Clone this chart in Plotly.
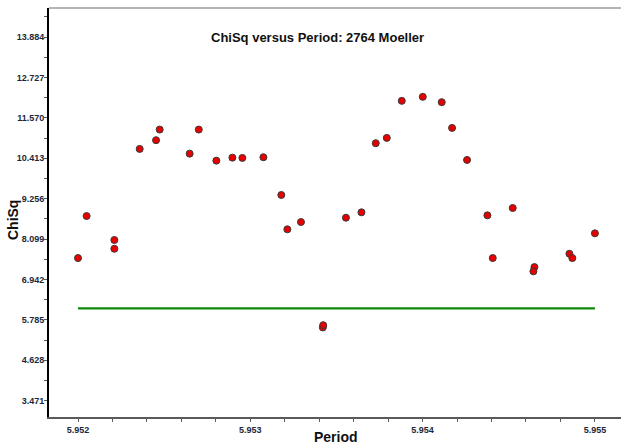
import plotly.graph_objects as go

# Trial periods and the chi-square value found at each
period = [
    5.952000, 5.952050, 5.952211, 5.952211, 5.952358, 5.952453, 5.952474,
    5.952648, 5.952701, 5.952803, 5.952896, 5.952954, 5.953076, 5.953180,
    5.953215, 5.953294, 5.953421, 5.953423, 5.953555, 5.953645, 5.953728,
    5.953792, 5.953879, 5.954001, 5.954111, 5.954171, 5.954258, 5.954376,
    5.954407, 5.954523, 5.954649, 5.954643, 5.954852, 5.954869, 5.955000,
]
chisq = [
    7.554, 8.759, 8.071, 7.821, 10.682, 10.932, 11.236,
    10.547, 11.236, 10.346, 10.432, 10.424, 10.444, 9.362,
    8.378, 8.587, 5.566, 5.632, 8.711, 8.865, 10.846,
    10.998, 12.059, 12.174, 12.022, 11.284, 10.366, 8.779,
    7.554, 8.989, 7.296, 7.173, 7.678, 7.554, 8.263,
]

# Reference level drawn across the searched period interval
ref_period = [5.952, 5.955]
ref_level = [6.111, 6.111]

x_range = [5.9518317, 5.9551514]
y_range = [3.0, 14.72]
y_tick0 = 3.471
y_step = 1.157

NARROW = "Liberation Sans Narrow, Arial Narrow, sans-serif"
SANS = "Liberation Sans, Arial, sans-serif"
label_font = dict(family=NARROW, size=9, color="#1c2838", weight="bold")

fig = go.Figure()
fig.add_trace(go.Scatter(
    x=ref_period, y=ref_level, mode="lines",
    line=dict(color="#0a8a0a", width=2.2),
    hoverinfo="skip", showlegend=False,
))
fig.add_trace(go.Scatter(
    x=period, y=chisq, mode="markers",
    marker=dict(size=7, color="#e80000", line=dict(color="#3a3a3a", width=1)),
    showlegend=False,
))

fig.update_layout(
    width=621, height=445,
    margin=dict(l=49, r=0, t=8, b=28),
    paper_bgcolor="white", plot_bgcolor="white",
    showlegend=False,
    xaxis=dict(
        range=x_range, showgrid=False, zeroline=False,
        showline=True, linecolor="#5a5a5a", linewidth=2,
        tickmode="linear", tick0=5.952, dtick=0.001, tickformat=".3f",
        ticks="outside", ticklen=3, tickcolor="#5a5a5a", tickwidth=1,
        tickfont=label_font,
        minor=dict(tickmode="linear", tick0=5.952, dtick=0.0002,
                   ticks="outside", ticklen=3, tickcolor="#5a5a5a", showgrid=False),
    ),
    yaxis=dict(
        range=y_range, showgrid=False, zeroline=False,
        showline=True, linecolor="#000000", linewidth=2,
        tickmode="linear", tick0=y_tick0, dtick=y_step, tickformat=".3f",
        ticks="outside", ticklen=3, tickcolor="#5a5a5a", tickwidth=1,
        tickfont=label_font, ticklabelstandoff=-2,
        minor=dict(tickmode="linear", tick0=y_tick0, dtick=y_step / 2,
                   ticks="outside", ticklen=3, tickcolor="#5a5a5a", showgrid=False),
    ),
    shapes=[dict(type="line", xref="paper", yref="paper", x0=0, x1=1, y0=1, y1=1,
                 line=dict(color="#9a9a9a", width=1.5))],
    annotations=[
        dict(text="<b>ChiSq versus Period: 2764 Moeller</b>", xref="paper", yref="paper",
             x=0.47, y=1, yshift=-29, xanchor="center", yanchor="middle", showarrow=False,
             font=dict(family=SANS, size=13, color="#111111")),
        dict(text="<b>Period</b>", xref="paper", yref="paper",
             x=0.502, y=0, yshift=-20, xanchor="center", yanchor="middle", showarrow=False,
             font=dict(family=NARROW, size=14, color="#111111")),
        dict(text="<b>ChiSq</b>", xref="paper", yref="paper", textangle=-90,
             x=0, xshift=-36, y=0.4816, xanchor="center", yanchor="middle", showarrow=False,
             font=dict(family=NARROW, size=14, color="#111111")),
    ],
)

fig.write_html("out.html")
